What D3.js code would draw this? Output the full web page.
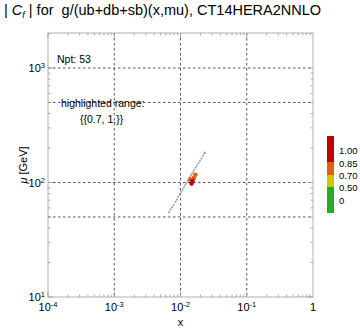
<!DOCTYPE html>
<html><head><meta charset="utf-8">
<script src="https://cdn.jsdelivr.net/npm/d3@7"></script>
<style>body{margin:0;background:#fff}svg{display:block;font-family:"Liberation Sans",Arial,sans-serif}text{white-space:pre}</style>
</head><body>
<svg id="c" width="360" height="330"></svg>
<script>
// data points (x, mu)
const ptX  = [0.0067,0.0071,0.0075,0.0079,0.0084,0.0088,0.0093,0.0098,0.0103,0.0108,0.0113,0.0118,0.0123,0.0128,0.0133,0.0138,0.0143,0.0149,0.0155,0.0162,0.0170,0.0178,0.0187,0.0196,0.0206,0.0217,0.0228,0.0234];
const ptMu = [55,58,61,64,68,71,75,79,83,87,91,95,99,103,107,111,115,119,124,129,135,141,148,155,162,170,178,183];
// highlighted points (|Cf| in 0.7..1)
const hiX  = [0.0140,0.0168,0.0160,0.0152,0.0147];
const hiMu = [106,117,110,103,98];
const hiV  = [0.72,0.76,0.80,0.90,0.96];
// colour scale
const cbEdges  = [0,0.5,0.7,0.85,1.0];
const cbColors = ["#22b022","#d2c400","#e2600a","#c00000"];
const cbLabels = ["0","0.50","0.70","0.85","1.00"];
const xTicks = [1e-4,1e-3,1e-2,1e-1,1];
const xTickLabels = [["10","-4"],["10","-3"],["10","-2"],["10","-1"],["1",""]];
const yTicks = [10,100,1000];
const yTickLabels = [["10","1"],["10","2"],["10","3"]];
const xGrid = [1e-3,1e-2,1e-1];
const yGrid = [50,100,500,1000];

const svg = d3.select("#c");
const L=48,R=313,T=33,B=297;
const x = d3.scaleLog().domain([1e-4,1]).range([L,R]);
const y = d3.scaleLog().domain([10, 10**((B-T)/114.5+1)]).range([B,T]);

// title
const title = svg.append("text").attr("x",4).attr("y",15).attr("font-size",14.5).attr("fill","#000");
title.append("tspan").text("| ");
title.append("tspan").attr("font-style","italic").text("C");
title.append("tspan").attr("font-style","italic").attr("font-size",9).attr("dy",3).text("f");
title.append("tspan").attr("dy",-3).text(" | for  g/(ub+db+sb)(x,mu), CT14HERA2NNLO");

// grid
const g = svg.append("g");
xGrid.forEach(v=>g.append("line").attr("x1",x(v)).attr("x2",x(v)).attr("y1",T).attr("y2",B)
  .attr("stroke","#555").attr("stroke-width",1).attr("stroke-dasharray","2.5,2.5"));
yGrid.forEach(v=>g.append("line").attr("y1",y(v)).attr("y2",y(v)).attr("x1",L).attr("x2",R)
  .attr("stroke","#555").attr("stroke-width",1).attr("stroke-dasharray","2.5,2.5"));

// frame
svg.append("rect").attr("x",L).attr("y",T).attr("width",R-L).attr("height",B-T)
  .attr("fill","none").attr("stroke","#b0b0b0").attr("stroke-width",1);

// ticks (inward, all sides)
const tk = svg.append("g").attr("stroke","#999").attr("stroke-width",0.8);
const xMinor=[], yMinor=[];
for(let e=-4;e<0;e++) for(let m=1;m<10;m++) xMinor.push(m*10**e);
for(let e=1;e<4;e++) for(let m=1;m<10;m++){const v=m*10**e; if(y(v)>=T) yMinor.push(v);}
xMinor.forEach(v=>{const len=(Math.abs(Math.log10(v)-Math.round(Math.log10(v)))<1e-9)?5:2.5;
  tk.append("line").attr("x1",x(v)).attr("x2",x(v)).attr("y1",B).attr("y2",B-len);
  tk.append("line").attr("x1",x(v)).attr("x2",x(v)).attr("y1",T).attr("y2",T+len);});
yMinor.forEach(v=>{const len=(Math.abs(Math.log10(v)-Math.round(Math.log10(v)))<1e-9)?5:2.5;
  tk.append("line").attr("y1",y(v)).attr("y2",y(v)).attr("x1",L).attr("x2",L+len);
  tk.append("line").attr("y1",y(v)).attr("y2",y(v)).attr("x1",R).attr("x2",R-len);});

// tick labels
xTicks.forEach((v,i)=>{const t=svg.append("text").attr("x",x(v)).attr("y",311).attr("text-anchor","middle")
  .attr("font-size",11).attr("fill","#000");
  t.append("tspan").text(xTickLabels[i][0]);
  if(xTickLabels[i][1]) t.append("tspan").attr("font-size",7.5).attr("dy",-4).text(xTickLabels[i][1]);});
yTicks.forEach((v,i)=>{const t=svg.append("text").attr("x",45).attr("y",y(v)+4).attr("text-anchor","end")
  .attr("font-size",11).attr("fill","#000");
  t.append("tspan").text(yTickLabels[i][0]);
  t.append("tspan").attr("font-size",7.5).attr("dy",-4).text(yTickLabels[i][1]);});

// axis labels
svg.append("text").attr("x",x(1e-2)).attr("y",326).attr("text-anchor","middle").attr("font-size",11).text("x");
const yl = svg.append("text").attr("transform","translate(27,165) rotate(-90)").attr("text-anchor","middle").attr("font-size",11);
yl.append("tspan").attr("font-style","italic").text("μ");
yl.append("tspan").text(" [GeV]");

// annotations
svg.append("text").attr("x",57).attr("y",63).attr("font-size",10.5).text("Npt: 53");
svg.append("text").attr("x",61).attr("y",107).attr("font-size",10.5).text("highlighted range:");
svg.append("text").attr("x",80).attr("y",123).attr("font-size",10.5).text("{{0.7, 1.}}");

// points
svg.append("g").selectAll("circle").data(ptX).join("circle")
  .attr("cx",(d)=>x(d)).attr("cy",(d,i)=>y(ptMu[i])).attr("r",1)
  .attr("fill","#9a9aa4");
const col = d3.scaleThreshold().domain(cbEdges.slice(1,4)).range(cbColors);
svg.append("g").selectAll("circle").data(hiX).join("circle")
  .attr("cx",d=>x(d)).attr("cy",(d,i)=>y(hiMu[i])).attr("r",2.3)
  .attr("fill",(d,i)=>col(hiV[i]));

// colour bar
const cb = d3.scaleLinear().domain([0,0.5,0.7,0.85,1]).range([213,187,175,162,136]);
for(let i=0;i<4;i++){
  svg.append("rect").attr("x",327).attr("width",7).attr("y",cb(cbEdges[i+1])).attr("height",cb(cbEdges[i])-cb(cbEdges[i+1]))
    .attr("fill",cbColors[i]);
}
const cbLabY = [200,187,175,163,150];
cbLabels.forEach((s,i)=>svg.append("text").attr("x",339).attr("y",cbLabY[i]+3.5).attr("font-size",9.5).text(s));
</script>
</body></html>
